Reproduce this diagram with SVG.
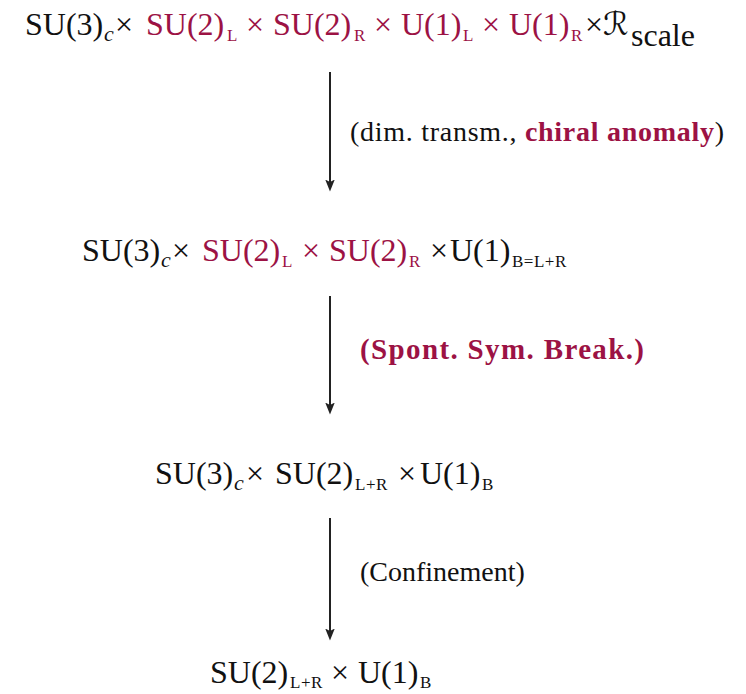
<svg xmlns="http://www.w3.org/2000/svg" width="746" height="694" viewBox="0 0 746 694">
<style>
text{font-family:"Liberation Serif","Times New Roman",serif;fill:#111;font-size:32px}
.r{fill:#9c1244}
.s{font-size:17px;letter-spacing:0.5px}
.it{font-style:italic;font-size:22px}
.cal{font-family:"DejaVu Serif","DejaVu Sans",serif;font-style:italic}
.lab{font-size:28px}
.b{font-weight:bold;fill:#9c1244}
.b2{font-size:29px}
.arr{stroke:#222;stroke-width:2;fill:none;marker-end:url(#ah)}
</style>
<defs>
<marker id="ah" viewBox="0 -5 12 10" refX="2.5" refY="0" markerWidth="12" markerHeight="10" markerUnits="userSpaceOnUse" orient="auto">
<path d="M0,-4.8 L12,0 L0,4.8 L2.5,0 Z" fill="#222"/>
</marker>
</defs>
<g id="n1">
<text><tspan x="25" y="35">SU(3)</tspan><tspan class="it" x="104" y="41">c</tspan><tspan x="115" y="35">×</tspan><tspan class="r" x="146" y="35">SU(2)</tspan><tspan class="r s" x="227" y="41">L</tspan><tspan class="r" x="246" y="35">×</tspan><tspan class="r" x="273" y="35">SU(2)</tspan><tspan class="r s" x="354" y="41">R</tspan><tspan class="r" x="374" y="35">×</tspan><tspan class="r" x="401" y="35">U(1)</tspan><tspan class="r s" x="463" y="41">L</tspan><tspan class="r" x="482" y="35">×</tspan><tspan class="r" x="509" y="35">U(1)</tspan><tspan class="r s" x="571" y="41">R</tspan><tspan x="585" y="35">×</tspan><tspan class="cal" x="603" y="35">ℛ</tspan><tspan x="631" y="46">scale</tspan></text>
</g>
<g id="n2">
<text><tspan x="82" y="261">SU(3)</tspan><tspan class="it" x="161" y="267">c</tspan><tspan x="172" y="261">×</tspan><tspan class="r" x="202" y="261">SU(2)</tspan><tspan class="r s" x="282" y="267">L</tspan><tspan class="r" x="302" y="261">×</tspan><tspan class="r" x="329" y="261">SU(2)</tspan><tspan class="r s" x="409" y="267">R</tspan><tspan x="430" y="261">×</tspan><tspan x="450" y="261">U(1)</tspan><tspan class="s" x="512" y="267">B=L+R</tspan></text>
</g>
<g id="n3">
<text><tspan x="155" y="484">SU(3)</tspan><tspan class="it" x="234" y="490">c</tspan><tspan x="246" y="484">×</tspan><tspan x="275" y="484">SU(2)</tspan><tspan class="s" x="355" y="490">L+R</tspan><tspan x="398" y="484">×</tspan><tspan x="420" y="484">U(1)</tspan><tspan class="s" x="482" y="490">B</tspan></text>
</g>
<g id="n4">
<text><tspan x="210" y="683">SU(2)</tspan><tspan class="s" x="290" y="688">L+R</tspan><tspan x="331" y="683">×</tspan><tspan x="358" y="683">U(1)</tspan><tspan class="s" x="420" y="688">B</tspan></text>
</g>
<g id="connectors">
<path class="arr" d="M330,72 V182"/>
<path class="arr" d="M330,296 V405"/>
<path class="arr" d="M330,518 V631"/>
</g>
<g id="edge-labels">
<text class="lab" x="350" y="141" textLength="374" lengthAdjust="spacing">(dim. transm., <tspan class="b">chiral anomaly</tspan>)</text>
<text class="lab b b2" x="360" y="359" textLength="284" lengthAdjust="spacing">(Spont. Sym. Break.)</text>
<text class="lab" x="360" y="581">(Confinement)</text>
</g>
</svg>
